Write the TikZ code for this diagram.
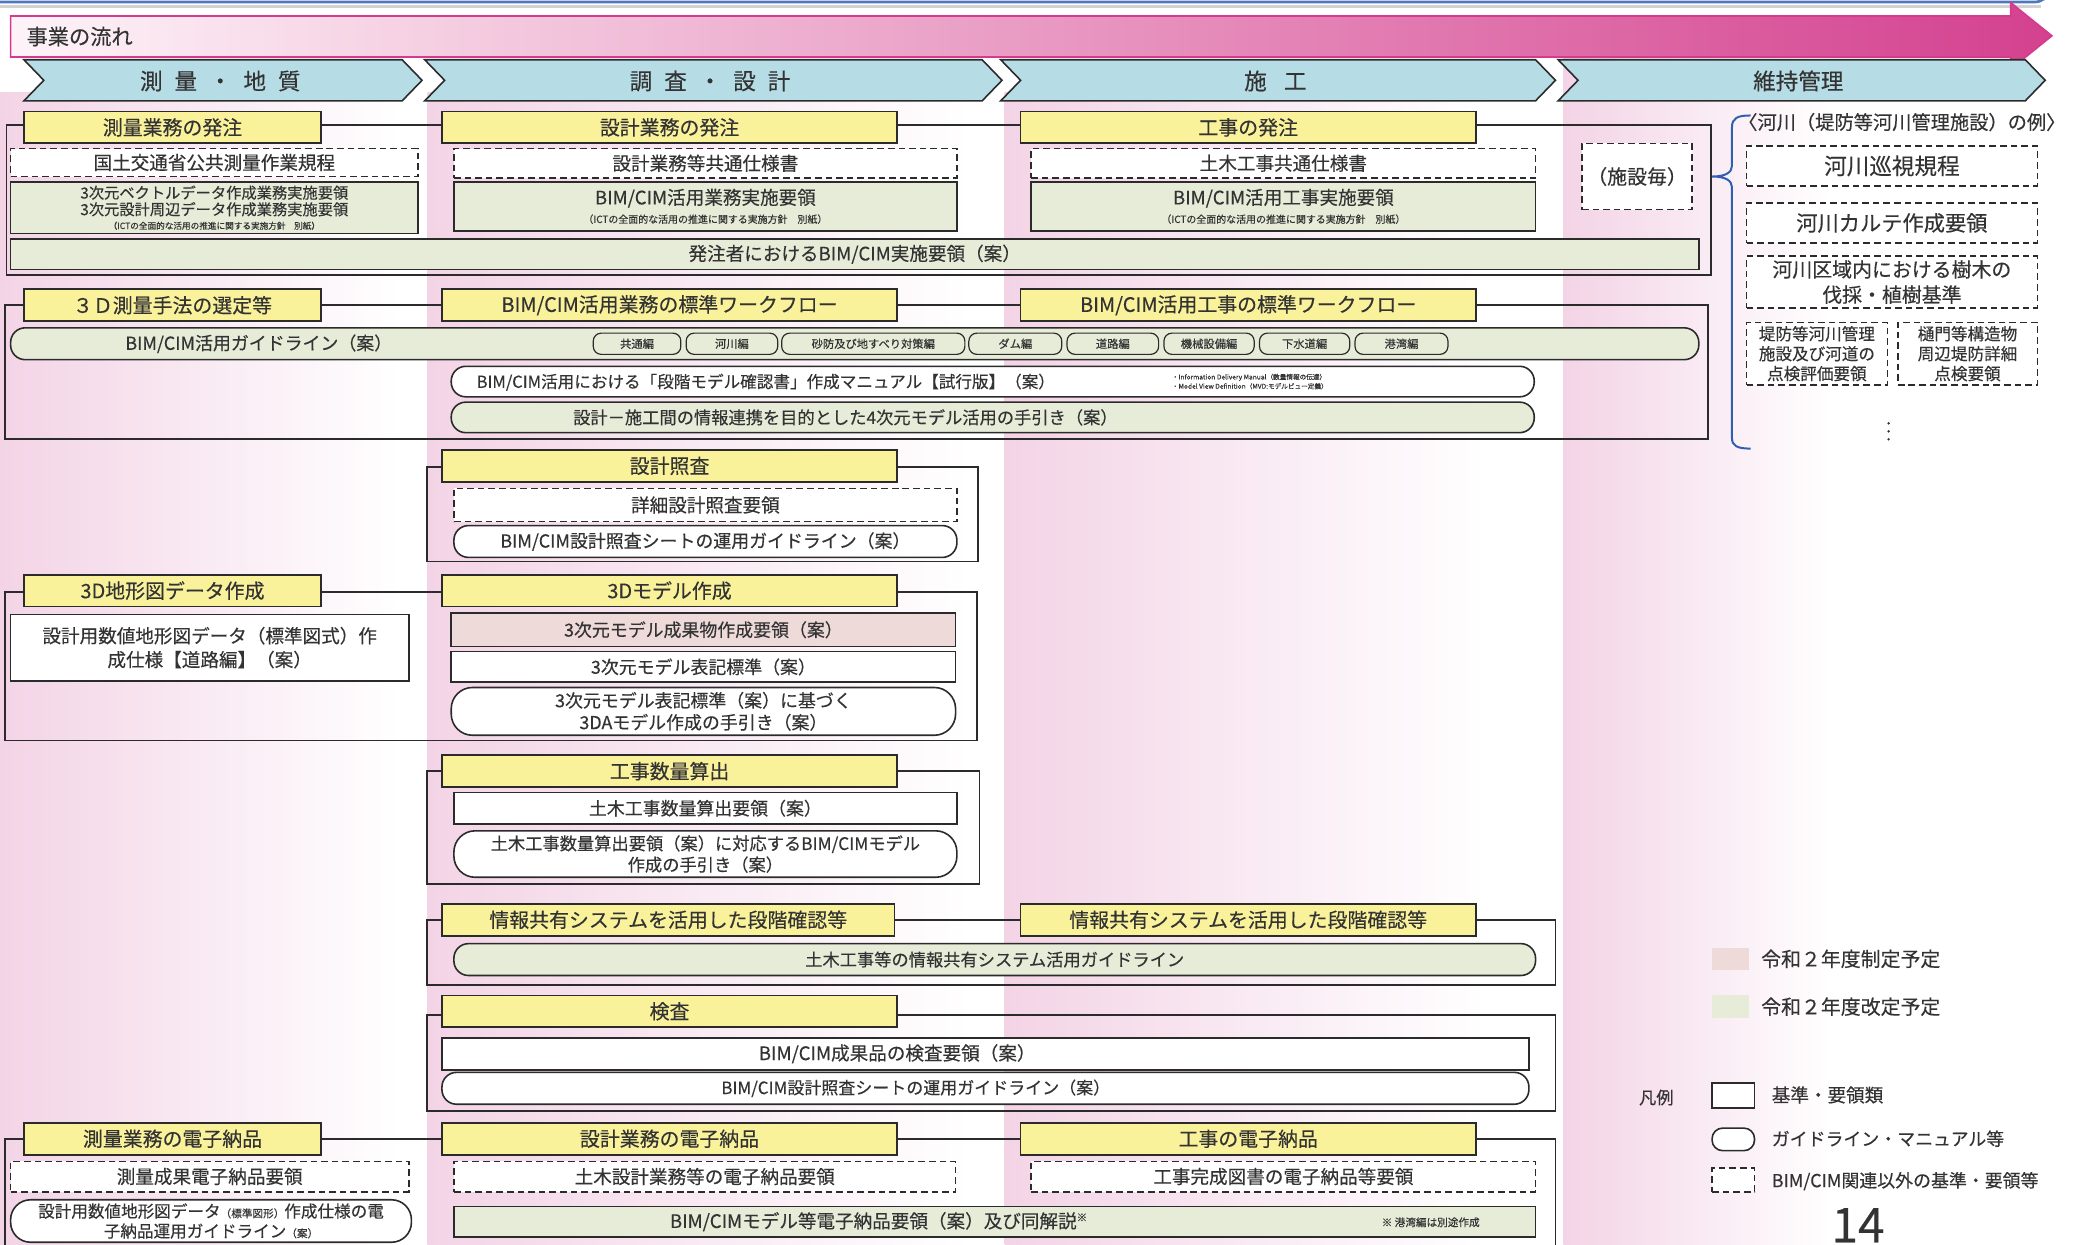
\documentclass[tikz,border=0pt]{standalone}
\usepackage{fontspec}
\setmainfont{Noto Sans CJK JP}[FakeBold=0.3]
\definecolor{txt}{HTML}{333333}
\definecolor{hdr}{HTML}{F9F29B}
\definecolor{grn}{HTML}{E7ECD9}
\definecolor{pnk}{HTML}{EFDADA}
\definecolor{chev}{HTML}{B6DCE5}
\definecolor{colp}{HTML}{F3D4E6}
\definecolor{tmag}{HTML}{D4418F}
\definecolor{tpnk}{HTML}{F5B3CD}
\definecolor{tbord}{HTML}{D63A8E}
\definecolor{brc}{HTML}{2F5FB3}
\definecolor{frm}{HTML}{2B2B2B}
\newcommand\fs[2]{\fontsize{#1}{#2}\selectfont}
\newcommand\bx[7]{\node[#2,minimum width={#5-#3},minimum height={#6-#4}] (#1) at ({(#3+#5)/2},{(#4+#6)/2}) {#7};}
\newcommand\gp{\hspace{9pt}}
\tikzset{
 base/.style={inner sep=0pt, outer sep=0pt, align=center, text=txt},
 hdrbox/.style={base, draw=frm, line width=1.3pt, fill=hdr, font=\fs{15}{18}},
 dbox/.style={base, draw=frm, dash pattern=on 5pt off 3pt, line width=1.1pt, fill=white, font=\fs{14}{17}},
 gbox/.style={base, draw=frm, line width=1.2pt, fill=grn, font=\fs{14}{17}},
 wbox/.style={base, draw=frm, line width=1.2pt, fill=white, font=\fs{14}{17}},
 pbox/.style={base, draw=frm, line width=1.2pt, fill=pnk, font=\fs{13.5}{16}},
 pill/.style={rounded corners=11pt},
 spill/.style={base, draw=frm, line width=0.9pt, fill=grn, rounded corners=6pt, font=\fs{8.5}{10}},
 frame/.style={draw=frm, line width=1.3pt},
 chevs/.style={fill=chev, draw=frm, line width=1.2pt},
 lbl/.style={base, font=\fs{14}{17}},
}
\begin{document}
\begin{tikzpicture}[x=1pt,y=-1pt]
\useasboundingbox (0,0) rectangle (1568,938);
\clip (0,0) rectangle (1568,938);
% column backgrounds
\shade[left color=colp, right color=white] (0,70) rectangle (300,960);
\shade[left color=colp, right color=white] (322,70) rectangle (730,960);
\shade[left color=colp, right color=white] (757,70) rectangle (1120,960);
\shade[left color=colp, right color=white] (1178,30) rectangle (1380,960);
% top frame line
\draw[gray!35, line width=2.5pt] (0,5) -- (1538,5);
\draw[brc!85, line width=2pt] (0,1.5) -- (1533,1.5) to[out=0,in=-90] (1544,-8);
% title arrow
\shadedraw[left color=white!85!tpnk, middle color=tpnk, right color=tmag, draw=tbord, line width=1.3pt]
 (8,12) -- (1515,12) -- (1515,2) -- (1546,27) -- (1515,52) -- (1515,43) -- (8,43) -- cycle;
\node[base, anchor=west, font=\fs{16}{18}] (title) at (20,27.5) {事業の流れ};
% chevrons
\newcommand\chev[3]{\filldraw[chevs] (#1,45) -- ({#2-15},45) -- (#2,60.5) -- ({#2-15},76) -- (#1,76) -- ({#1+15},60.5) -- cycle;}
\chev{18}{318}{}\chev{320}{755}{}\chev{754}{1172}{}\chev{1174}{1541}{}
\node[base, font=\fs{17}{20}] (c1) at (166,61) {測\gp 量\gp ・\gp 地\gp 質};
\node[base, font=\fs{17}{20}] (c2) at (535,61) {調\gp 査\gp ・\gp 設\gp 計};
\node[base, font=\fs{17}{20}] (c3) at (961,61) {施\hspace{13pt}工};
\node[base, font=\fs{17}{20}] (c4) at (1355,61) {維持管理};
% ===== row 1
\draw[frame] (5,94) rectangle (1289,207);
\bx{h11}{hdrbox}{18}{84}{242}{108}{測量業務の発注}
\bx{h12}{hdrbox}{333}{84}{676}{108}{設計業務の発注}
\bx{h13}{hdrbox}{769}{84}{1112}{108}{工事の発注}
\bx{d11}{dbox}{8}{112}{315}{133}{国土交通省公共測量作業規程}
\bx{d12}{dbox}{342}{112}{721}{134}{設計業務等共通仕様書}
\bx{d13}{dbox}{777}{112}{1157}{134}{土木工事共通仕様書}
\bx{g11}{gbox,font=\fs{11.5}{12.5}}{8}{137}{315}{176}{3次元ベクトルデータ作成業務実施要領\\3次元設計周辺データ作成業務実施要領\\[-2pt]{\fs{6.5}{8}（ICTの全面的な活用の推進に関する実施方針　別紙）}}
\bx{g12}{gbox}{342}{137}{721}{174}{BIM/CIM活用業務実施要領\\[-3pt]{\fs{7.5}{9}（ICTの全面的な活用の推進に関する実施方針　別紙）}}
\bx{g13}{gbox}{777}{137}{1157}{174}{BIM/CIM活用工事実施要領\\[-3pt]{\fs{7.5}{9}（ICTの全面的な活用の推進に関する実施方針　別紙）}}
\bx{g14}{gbox}{8}{180}{1280}{203}{発注者におけるBIM/CIM実施要領（案）}
% ===== maintenance side
\bx{sh}{dbox,font=\fs{15}{18}}{1192}{108}{1275}{158}{（施設毎）}
\draw[brc, line width=1.5pt] (1319,87) .. controls (1309,87) and (1305,89) .. (1305,96) -- (1305,125) .. controls (1305,130) and (1300,133) .. (1290,133) .. controls (1300,133) and (1305,136) .. (1305,141) -- (1305,330) .. controls (1305,336) and (1309,338) .. (1319,338);
\node[base, font=\fs{14.5}{17}] (ex) at (1433,92) {〈河川（堤防等河川管理施設）の例〉};
\bx{r1}{dbox,font=\fs{17}{20}}{1316}{110}{1535}{140}{河川巡視規程}
\bx{r2}{dbox,font=\fs{16}{19}}{1316}{153}{1535}{183}{河川カルテ作成要領}
\bx{r3}{dbox,font=\fs{15}{19}}{1316}{193}{1535}{232}{河川区域内における樹木の\\伐採・植樹基準}
\bx{r4}{dbox,font=\fs{12.5}{15}}{1316}{243}{1422}{290}{堤防等河川管理\\施設及び河道の\\点検評価要領}
\bx{r5}{dbox,font=\fs{12.5}{15}}{1430}{243}{1535}{290}{樋門等構造物\\周辺堤防詳細\\点検要領}
\fill[txt] (1423,319) circle (1pt) (1423,325) circle (1pt) (1423,331) circle (1pt);
% ===== row 2
\draw[frame] (4,230) rectangle (1287,331);
\bx{h21}{hdrbox}{18}{218}{242}{242}{３Ｄ測量手法の選定等}
\bx{h22}{hdrbox}{333}{218}{676}{242}{BIM/CIM活用業務の標準ワークフロー}
\bx{h23}{hdrbox}{769}{218}{1112}{242}{BIM/CIM活用工事の標準ワークフロー}
\bx{g21}{gbox,pill}{8}{247}{1280}{271}{}
\node[base, font=\fs{13.5}{15}] (g21t) at (195,259) {BIM/CIM活用ガイドライン（案）};
\bx{p1}{spill}{447}{251}{513}{267}{共通編}
\bx{p2}{spill}{517}{251}{586}{267}{河川編}
\bx{p3}{spill}{589}{251}{727}{267}{砂防及び地すべり対策編}
\bx{p4}{spill}{730}{251}{800}{267}{ダム編}
\bx{p5}{spill}{804}{251}{873}{267}{道路編}
\bx{p6}{spill}{877}{251}{945}{267}{機械設備編}
\bx{p7}{spill}{949}{251}{1017}{267}{下水道編}
\bx{p8}{spill}{1021}{251}{1091}{267}{港湾編}
\bx{w22}{wbox,pill}{340}{276}{1156}{299}{}
\node[base, font=\fs{12.5}{15}] (w22t) at (577,288) {BIM/CIM活用における「段階モデル確認書」作成マニュアル【試行版】（案）};
\node[base, anchor=west, align=left, font=\fs{5}{7}] (w22s) at (883,287.5) {・Information Delivery Manual（数量情報の伝達）\\・Model View Definition（MVD:モデルビュー定義）};
\bx{g22}{gbox,pill}{340}{303}{1156}{326}{}
\node[base, font=\fs{13}{15}] (g22t) at (637,314.5) {設計－施工間の情報連携を目的とした4次元モデル活用の手引き（案）};
% ===== row 3
\draw[frame] (322,352) rectangle (737,423);
\bx{h31}{hdrbox}{333}{339}{676}{363}{設計照査}
\bx{d31}{dbox}{342}{368}{721}{393}{詳細設計照査要領}
\bx{w31}{wbox,pill,font=\fs{13.5}{16}}{342}{396}{721}{420}{BIM/CIM設計照査シートの運用ガイドライン（案）}
% ===== row 4
\draw[frame] (4,446) rectangle (736,558);
\bx{h41}{hdrbox}{18}{433}{242}{457}{3D地形図データ作成}
\bx{h42}{hdrbox}{333}{433}{676}{457}{3Dモデル作成}
\bx{w41}{wbox,font=\fs{14}{18}}{8}{463}{308}{513}{設計用数値地形図データ（標準図式）作\\成仕様【道路編】（案）}
\bx{pk41}{pbox}{340}{462}{720}{487}{3次元モデル成果物作成要領（案）}
\bx{w42}{wbox,font=\fs{13.5}{16}}{340}{491}{720}{514}{3次元モデル表記標準（案）}
\bx{w43}{wbox,rounded corners=16pt,font=\fs{13.5}{16.5}}{340}{518}{720}{554}{3次元モデル表記標準（案）に基づく\\3DAモデル作成の手引き（案）}
% ===== row 5
\draw[frame] (322,581) rectangle (738,666);
\bx{h51}{hdrbox}{333}{569}{676}{593}{工事数量算出}
\bx{w51}{wbox,font=\fs{13.5}{16}}{342}{597}{721}{621}{土木工事数量算出要領（案）}
\bx{w52}{wbox,rounded corners=16pt,font=\fs{13}{16}}{342}{626}{721}{661}{土木工事数量算出要領（案）に対応するBIM/CIMモデル\\作成の手引き（案）}
% ===== row 6
\draw[frame] (322,693) rectangle (1172,742);
\bx{h61}{hdrbox}{333}{681}{674}{705}{情報共有システムを活用した段階確認等}
\bx{h62}{hdrbox}{769}{681}{1112}{705}{情報共有システムを活用した段階確認等}
\bx{g61}{gbox,pill,font=\fs{13}{15}}{342}{711}{1157}{735}{土木工事等の情報共有システム活用ガイドライン}
% ===== row 7
\draw[frame] (322,765) rectangle (1172,837);
\bx{h71}{hdrbox}{333}{750}{676}{774}{検査}
\bx{w71}{wbox}{333}{782}{1152}{806}{}
\node[base, font=\fs{14}{17}] (w71t) at (676,794) {BIM/CIM成果品の検査要領（案）};
\bx{w72}{wbox,pill}{333}{808}{1152}{832}{}
\node[base, font=\fs{12.8}{15}] (w72t) at (690,820) {BIM/CIM設計照査シートの運用ガイドライン（案）};
% ===== row 8
\draw[frame] (4,858) rectangle (1172,980);
\bx{h81}{hdrbox}{18}{846}{242}{870}{測量業務の電子納品}
\bx{h82}{hdrbox}{333}{846}{676}{870}{設計業務の電子納品}
\bx{h83}{hdrbox}{769}{846}{1112}{870}{工事の電子納品}
\bx{d81}{dbox}{8}{875}{308}{898}{測量成果電子納品要領}
\bx{d82}{dbox}{342}{875}{720}{898}{土木設計業務等の電子納品要領}
\bx{d83}{dbox}{777}{875}{1157}{898}{工事完成図書の電子納品等要領}
\bx{w81}{wbox,rounded corners=15pt,font=\fs{12.5}{15}}{8}{904}{310}{936}{設計用数値地形図データ{\fs{8}{9}（標準図形）}作成仕様の電\\子納品運用ガイドライン{\fs{8}{9}（案）}}
\bx{g81}{gbox}{342}{909}{1157}{932}{}
\node[base, font=\fs{14}{17}] (g81t) at (662,920.5) {BIM/CIMモデル等電子納品要領（案）及び同解説{\fs{8}{9}\raisebox{5pt}{※}}};
\node[base, font=\fs{8}{10}] (g81n) at (1078,921) {※ 港湾編は別途作成};
% ===== legend
\bx{lf1}{base,fill=pnk}{1290}{714}{1318}{731}{}
\node[lbl, anchor=west, font=\fs{15}{18}] (lf1t) at (1327,722.5) {令和２年度制定予定};
\bx{lf2}{base,fill=grn}{1290}{750}{1318}{767}{}
\node[lbl, anchor=west, font=\fs{15}{18}] (lf2t) at (1327,758.5) {令和２年度改定予定};
\node[lbl, font=\fs{13}{16}] (lg) at (1248,827) {凡例};
\bx{ls1}{wbox}{1290}{816}{1322}{835}{}
\node[lbl, anchor=west] (ls1t) at (1335,825) {基準・要領類};
\bx{ls2}{wbox,rounded corners=8pt}{1290}{850}{1322}{867}{}
\node[lbl, anchor=west, font=\fs{13.5}{16}] (ls2t) at (1335,858) {ガイドライン・マニュアル等};
\bx{ls3}{dbox}{1290}{880}{1322}{898}{}
\node[lbl, anchor=west, font=\fs{13.5}{16}] (ls3t) at (1335,890) {BIM/CIM関連以外の基準・要領等};
\node[base, anchor=base, font=\fs{36}{40}] (pg) at (1400,936) {14};
\end{tikzpicture}
\end{document}
